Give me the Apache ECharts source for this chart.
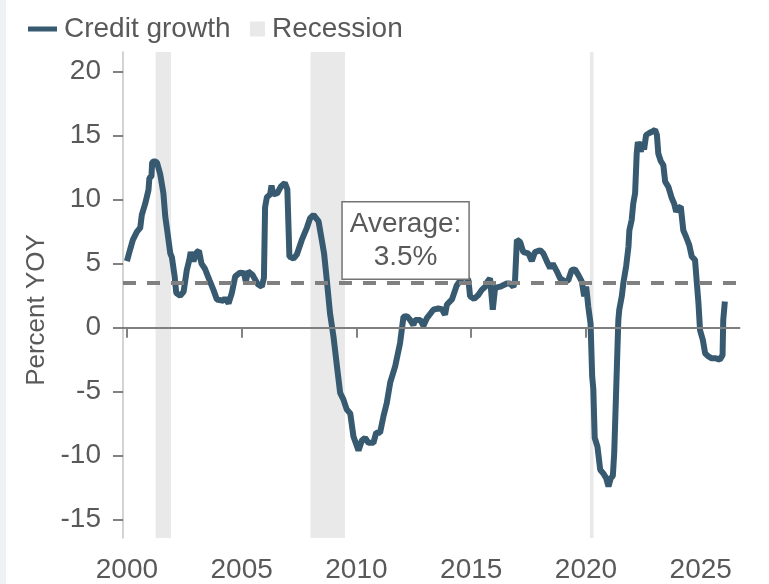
<!DOCTYPE html>
<html>
<head>
<meta charset="utf-8">
<script src="https://cdn.jsdelivr.net/npm/echarts@6/dist/echarts.min.js"></script>
<style>
  html, body { margin: 0; padding: 0; background: #ffffff; }
  #chart { position: absolute; left: 0; top: 0; width: 769px; height: 584px; }
  #strip { position: absolute; left: 0; top: 0; width: 6px; height: 584px; background: #eef2f4; }
</style>
</head>
<body>
<div id="chart"></div>
<div id="strip"></div>
<script>
// Dates as decimal years
const dates = [
  2000.00, 2000.14, 2000.26, 2000.44, 2000.58, 2000.65, 2000.80, 2000.94, 2000.98, 2001.07,
  2001.10, 2001.20, 2001.31, 2001.45, 2001.59, 2001.67, 2001.77, 2001.89, 2001.96, 2002.08,
  2002.15, 2002.32, 2002.47, 2002.61, 2002.72, 2002.78, 2002.90, 2003.05, 2003.14, 2003.25,
  2003.40, 2003.60, 2003.77, 2003.92, 2004.21, 2004.28, 2004.43, 2004.57, 2004.72, 2004.93,
  2005.10, 2005.18, 2005.28, 2005.48, 2005.70, 2005.88, 2005.97, 2006.02, 2006.10, 2006.24,
  2006.30, 2006.38, 2006.55, 2006.70, 2006.88, 2006.99, 2007.08, 2007.26, 2007.40, 2007.62,
  2007.84, 2007.98, 2008.13, 2008.35, 2008.49, 2008.59, 2008.71, 2008.85, 2009.00, 2009.17,
  2009.29, 2009.43, 2009.58, 2009.73, 2009.87, 2010.09, 2010.24, 2010.38, 2010.52, 2010.74,
  2010.86, 2011.03, 2011.18, 2011.32, 2011.47, 2011.69, 2011.90, 2012.05, 2012.20, 2012.34,
  2012.48, 2012.56, 2012.78, 2012.92, 2013.07, 2013.35, 2013.57, 2013.72, 2013.86, 2013.94,
  2014.16, 2014.37, 2014.59, 2014.73, 2014.88, 2014.95, 2015.13, 2015.31, 2015.46, 2015.61,
  2015.71, 2015.82, 2015.94, 2016.04, 2016.26, 2016.55, 2016.69, 2016.84, 2016.91, 2016.99,
  2017.13, 2017.27, 2017.49, 2017.64, 2017.78, 2018.00, 2018.14, 2018.29, 2018.44, 2018.55,
  2018.73, 2018.87, 2019.09, 2019.23, 2019.38, 2019.52, 2019.67, 2019.82, 2019.92, 2020.01,
  2020.10, 2020.20, 2020.27, 2020.32, 2020.38, 2020.50, 2020.62, 2020.76, 2020.88, 2020.98,
  2021.08, 2021.17, 2021.23, 2021.32, 2021.41, 2021.45, 2021.56, 2021.63, 2021.75, 2021.85,
  2021.89, 2021.99, 2022.06, 2022.14, 2022.21, 2022.26, 2022.33, 2022.39, 2022.47, 2022.53,
  2022.62, 2022.76, 2022.87, 2023.01, 2023.09, 2023.15, 2023.26, 2023.37, 2023.45, 2023.59,
  2023.74, 2023.84, 2023.93, 2024.03, 2024.13, 2024.24, 2024.36, 2024.50, 2024.61, 2024.75,
  2024.82, 2024.90, 2024.97, 2025.09, 2025.19, 2025.33, 2025.48, 2025.66, 2025.83, 2025.95,
  2025.98, 2026.05
];
// Credit growth, percent year over year
const creditGrowth = [
  5.2, 6.1, 6.85, 7.5, 7.8, 8.8, 9.7, 10.75, 11.7, 11.8,
  12.9, 13.0, 12.9, 12.0, 10.5, 8.7, 7.4, 5.8, 5.5, 4.0,
  2.7, 2.5, 2.8, 4.5, 5.3, 5.9, 5.2, 5.9, 6.0, 5.0,
  4.6, 3.7, 2.95, 2.2, 2.1, 2.3, 1.9, 2.7, 4.0, 4.3,
  4.25, 3.6, 4.4, 4.1, 3.4, 3.2, 3.9, 9.4, 10.2, 10.4,
  11.1, 10.4, 10.5, 11.0, 11.3, 10.8, 5.55, 5.4, 5.7, 6.85,
  7.8, 8.55, 8.8, 8.3, 6.85, 5.8, 3.7, 1.1, -0.7, -3.3,
  -5.1, -5.6, -6.4, -6.7, -8.5, -9.6, -8.8, -8.6, -9.0, -9.0,
  -8.2, -8.2, -6.9, -5.9, -4.3, -3.0, -1.2, 0.85, 0.9, 0.6,
  0.2, 0.6, 0.6, 0.15, 0.75, 1.4, 1.5, 1.45, 1.0, 1.8,
  2.2, 3.3, 3.85, 4.0, 3.7, 2.45, 2.25, 2.55, 2.95, 3.2,
  3.6, 3.85, 1.4, 3.1, 3.2, 3.45, 3.45, 3.2, 3.7, 6.85,
  6.7, 5.9, 5.8, 5.2, 5.9, 6.05, 5.8, 5.2, 4.65, 5.0,
  4.4, 3.85, 3.6, 3.7, 4.5, 4.55, 4.1, 3.6, 2.45, 3.2,
  1.65, 0.3, -3.8, -4.8, -8.6, -9.3, -11.1, -11.4, -11.75, -12.4,
  -11.75, -11.6, -9.8, -4.6, 0.6, 1.4, 2.45, 3.5, 4.8, 6.3,
  7.6, 8.4, 9.7, 10.5, 13.6, 14.5, 14.65, 13.75, 14.5, 13.9,
  15.05, 15.2, 15.3, 15.45, 15.05, 13.6, 13.0, 12.7, 11.4, 11.0,
  10.1, 9.7, 9.05, 9.35, 9.45, 7.6, 7.1, 6.45, 5.55, 5.3,
  5.3, 1.9, -0.2, -0.95, -2.0, -2.25, -2.4, -2.4, -2.5, -2.15,
  0.6, 2.05
];
// Recession periods (start, end) in decimal years
const recessionStarts = [2001.25, 2008.0, 2020.17];
const recessionEnds = [2001.92, 2009.5, 2020.33];
const averageValue = 3.5;
const averageLabel = 'Average:\n3.5%';
const xTickYears = [2000, 2005, 2010, 2015, 2020, 2025];
const yTickValues = [-15, -10, -5, 0, 5, 10, 15, 20];
const seriesNames = ['Credit growth', 'Recession'];

const lineColor = '#375a70';
const recessionColor = '#e9e9e9';
const textColor = '#595959';
const fontFamily = '"Liberation Sans", Arial, sans-serif';

const chart = echarts.init(document.getElementById('chart'), null, { renderer: 'canvas' });

const lineData = dates.map((d, i) => [d, creditGrowth[i]]);
const recessionAreas = recessionStarts.map((s, i) => [{ xAxis: s }, { xAxis: recessionEnds[i] }]);

const option = {
  animation: false,
  backgroundColor: '#ffffff',
  textStyle: { fontFamily: fontFamily },
  legend: [
    {
      data: [{ name: seriesNames[0], icon: 'rect' }],
      left: 28, top: 15, padding: 0,
      itemWidth: 29, itemHeight: 5,
      textStyle: { color: textColor, fontSize: 28, fontFamily: fontFamily, padding: [0, 0, 0, 2] },
      selectedMode: false
    },
    {
      data: [{ name: seriesNames[1], icon: 'rect' }],
      left: 250, top: 15, padding: 0,
      itemWidth: 15, itemHeight: 15,
      textStyle: { color: textColor, fontSize: 28, fontFamily: fontFamily, padding: [0, 0, 0, 2] },
      selectedMode: false
    }
  ],
  grid: { left: 123, right: 29, top: 52, bottom: 46, containLabel: false },
  xAxis: {
    type: 'value',
    min: 1999.83,
    max: 2026.71,
    axisLine: { show: true, lineStyle: { color: '#d3d3d3', width: 2 } },
    axisTick: { show: true, length: 10, lineStyle: { color: '#595959', width: 1.5 }, customValues: xTickYears },
    axisLabel: { color: textColor, fontSize: 28, fontFamily: fontFamily, margin: 18, customValues: xTickYears,
      formatter: v => String(Math.round(v)) },
    splitLine: { show: false }
  },
  yAxis: {
    type: 'value',
    min: -16.43,
    max: 21.53,
    name: 'Percent YOY',
    nameLocation: 'middle',
    nameGap: 67,
    nameTextStyle: { color: textColor, fontSize: 26, fontFamily: fontFamily, padding: [0, 30, 0, 0] },
    axisLine: { show: true, lineStyle: { color: '#c4c4c4', width: 1.5 } },
    axisTick: { show: true, length: 10, lineStyle: { color: '#595959', width: 1.5 }, customValues: yTickValues },
    axisLabel: { color: textColor, fontSize: 28, fontFamily: fontFamily, margin: 22, customValues: yTickValues },
    splitLine: { show: false }
  },
  series: [
    {
      name: seriesNames[1],
      type: 'line',
      data: [],
      color: recessionColor,
      itemStyle: { color: recessionColor },
      silent: true,
      markArea: {
        silent: true,
        itemStyle: { color: recessionColor },
        data: recessionAreas
      }
    },
    {
      name: 'refs',
      type: 'line',
      data: [],
      silent: true,
      markLine: {
        silent: true,
        symbol: 'none',
        label: { show: false },
        data: [
          { yAxis: 0, lineStyle: { color: '#7f7f7f', width: 2, type: 'solid' } },
          { yAxis: averageValue, lineStyle: { color: '#808080', width: 4, type: [13, 11] } }
        ]
      }
    },
    {
      name: seriesNames[0],
      type: 'line',
      data: lineData,
      color: lineColor,
      showSymbol: false,
      symbol: 'none',
      lineStyle: { color: lineColor, width: 6 },
      itemStyle: { color: lineColor },
      markPoint: {
        silent: true,
        symbol: 'rect',
        symbolSize: 1,
        itemStyle: { color: 'rgba(0,0,0,0)' },
        label: {
          show: true,
          position: 'inside',
          formatter: averageLabel,
          color: textColor,
          fontSize: 28,
          fontFamily: fontFamily,
          lineHeight: 33,
          align: 'center',
          backgroundColor: '#ffffff',
          borderColor: '#737373',
          borderWidth: 1.5,
          padding: [5, 7, 5, 7]
        },
        data: [{ coord: [2012.14, 6.81] }]
      }
    }
  ]
};
chart.setOption(option);
</script>
</body>
</html>
